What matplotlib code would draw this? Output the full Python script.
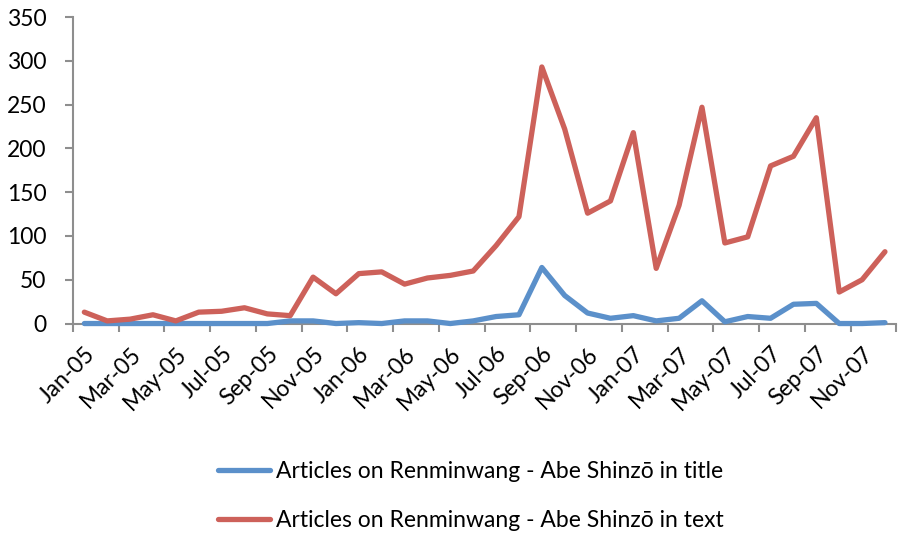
import numpy as np
import matplotlib
matplotlib.use('Agg')
import matplotlib.pyplot as plt

plt.rcParams['font.family'] = ['Lato', 'DejaVu Sans']

months = ['Jan-05', 'Feb-05', 'Mar-05', 'Apr-05', 'May-05', 'Jun-05', 'Jul-05', 'Aug-05',
          'Sep-05', 'Oct-05', 'Nov-05', 'Dec-05', 'Jan-06', 'Feb-06', 'Mar-06', 'Apr-06',
          'May-06', 'Jun-06', 'Jul-06', 'Aug-06', 'Sep-06', 'Oct-06', 'Nov-06', 'Dec-06',
          'Jan-07', 'Feb-07', 'Mar-07', 'Apr-07', 'May-07', 'Jun-07', 'Jul-07', 'Aug-07',
          'Sep-07', 'Oct-07', 'Nov-07', 'Dec-07']

in_title = [0, 0, 0, 0, 0, 0, 0, 0, 0, 3, 3, 0,
            1, 0, 3, 3, 0, 3, 8, 10, 64, 32, 12, 6,
            9, 3, 6, 26, 2, 8, 6, 22, 23, 0, 0, 1]

in_text = [13, 3, 5, 10, 3, 13, 14, 18, 11, 9, 53, 34,
           57, 59, 45, 52, 55, 60, 89, 122, 293, 222, 126, 140,
           218, 63, 135, 247, 92, 99, 180, 191, 235, 36, 50, 82]

label_title = 'Articles on Renminwang - Abe Shinz\u014d in title'
label_text = 'Articles on Renminwang - Abe Shinz\u014d in text'

fig = plt.figure(figsize=(9, 5.33), dpi=100)
ax = fig.add_axes([0.081, 0.393, 0.915, 0.575])

x = np.arange(len(months))
ax.plot(x, in_title, color='#5B90CA', linewidth=3.8, solid_capstyle='round',
        solid_joinstyle='round', label=label_title, clip_on=False, zorder=3)
ax.plot(x, in_text, color='#CD615A', linewidth=3.8, solid_capstyle='round',
        solid_joinstyle='round', label=label_text, clip_on=False, zorder=3)

ax.set_xlim(-0.5, len(months) - 0.5)
ax.set_ylim(0, 350)
ax.set_yticks(np.arange(0, 351, 50))

# labels every other month, tick marks between category pairs
ax.set_xticks(x[::2])
ax.set_xticklabels(months[::2], rotation=45, ha='right', rotation_mode='anchor')
ax.set_xticks(np.arange(-0.5, len(months), 2), minor=True)
ax.tick_params(axis='x', which='major', length=0, pad=14, labelsize=16.5)
ax.tick_params(axis='x', which='minor', length=6, width=1.5, color='#8E8E8E', direction='out')
ax.tick_params(axis='y', length=6, width=1.5, color='#8E8E8E', pad=13, labelsize=16.5)

for s in ['top', 'right']:
    ax.spines[s].set_visible(False)
for s in ['left', 'bottom']:
    ax.spines[s].set_color('#8E8E8E')
    ax.spines[s].set_linewidth(1.5)

fig.legend(loc='center', bbox_to_anchor=(0.523, 0.069), ncol=1, frameon=False,
           fontsize=16.5, handlelength=2.3, handletextpad=0.25, labelspacing=1.2)

fig.savefig('out.png', dpi=100)
